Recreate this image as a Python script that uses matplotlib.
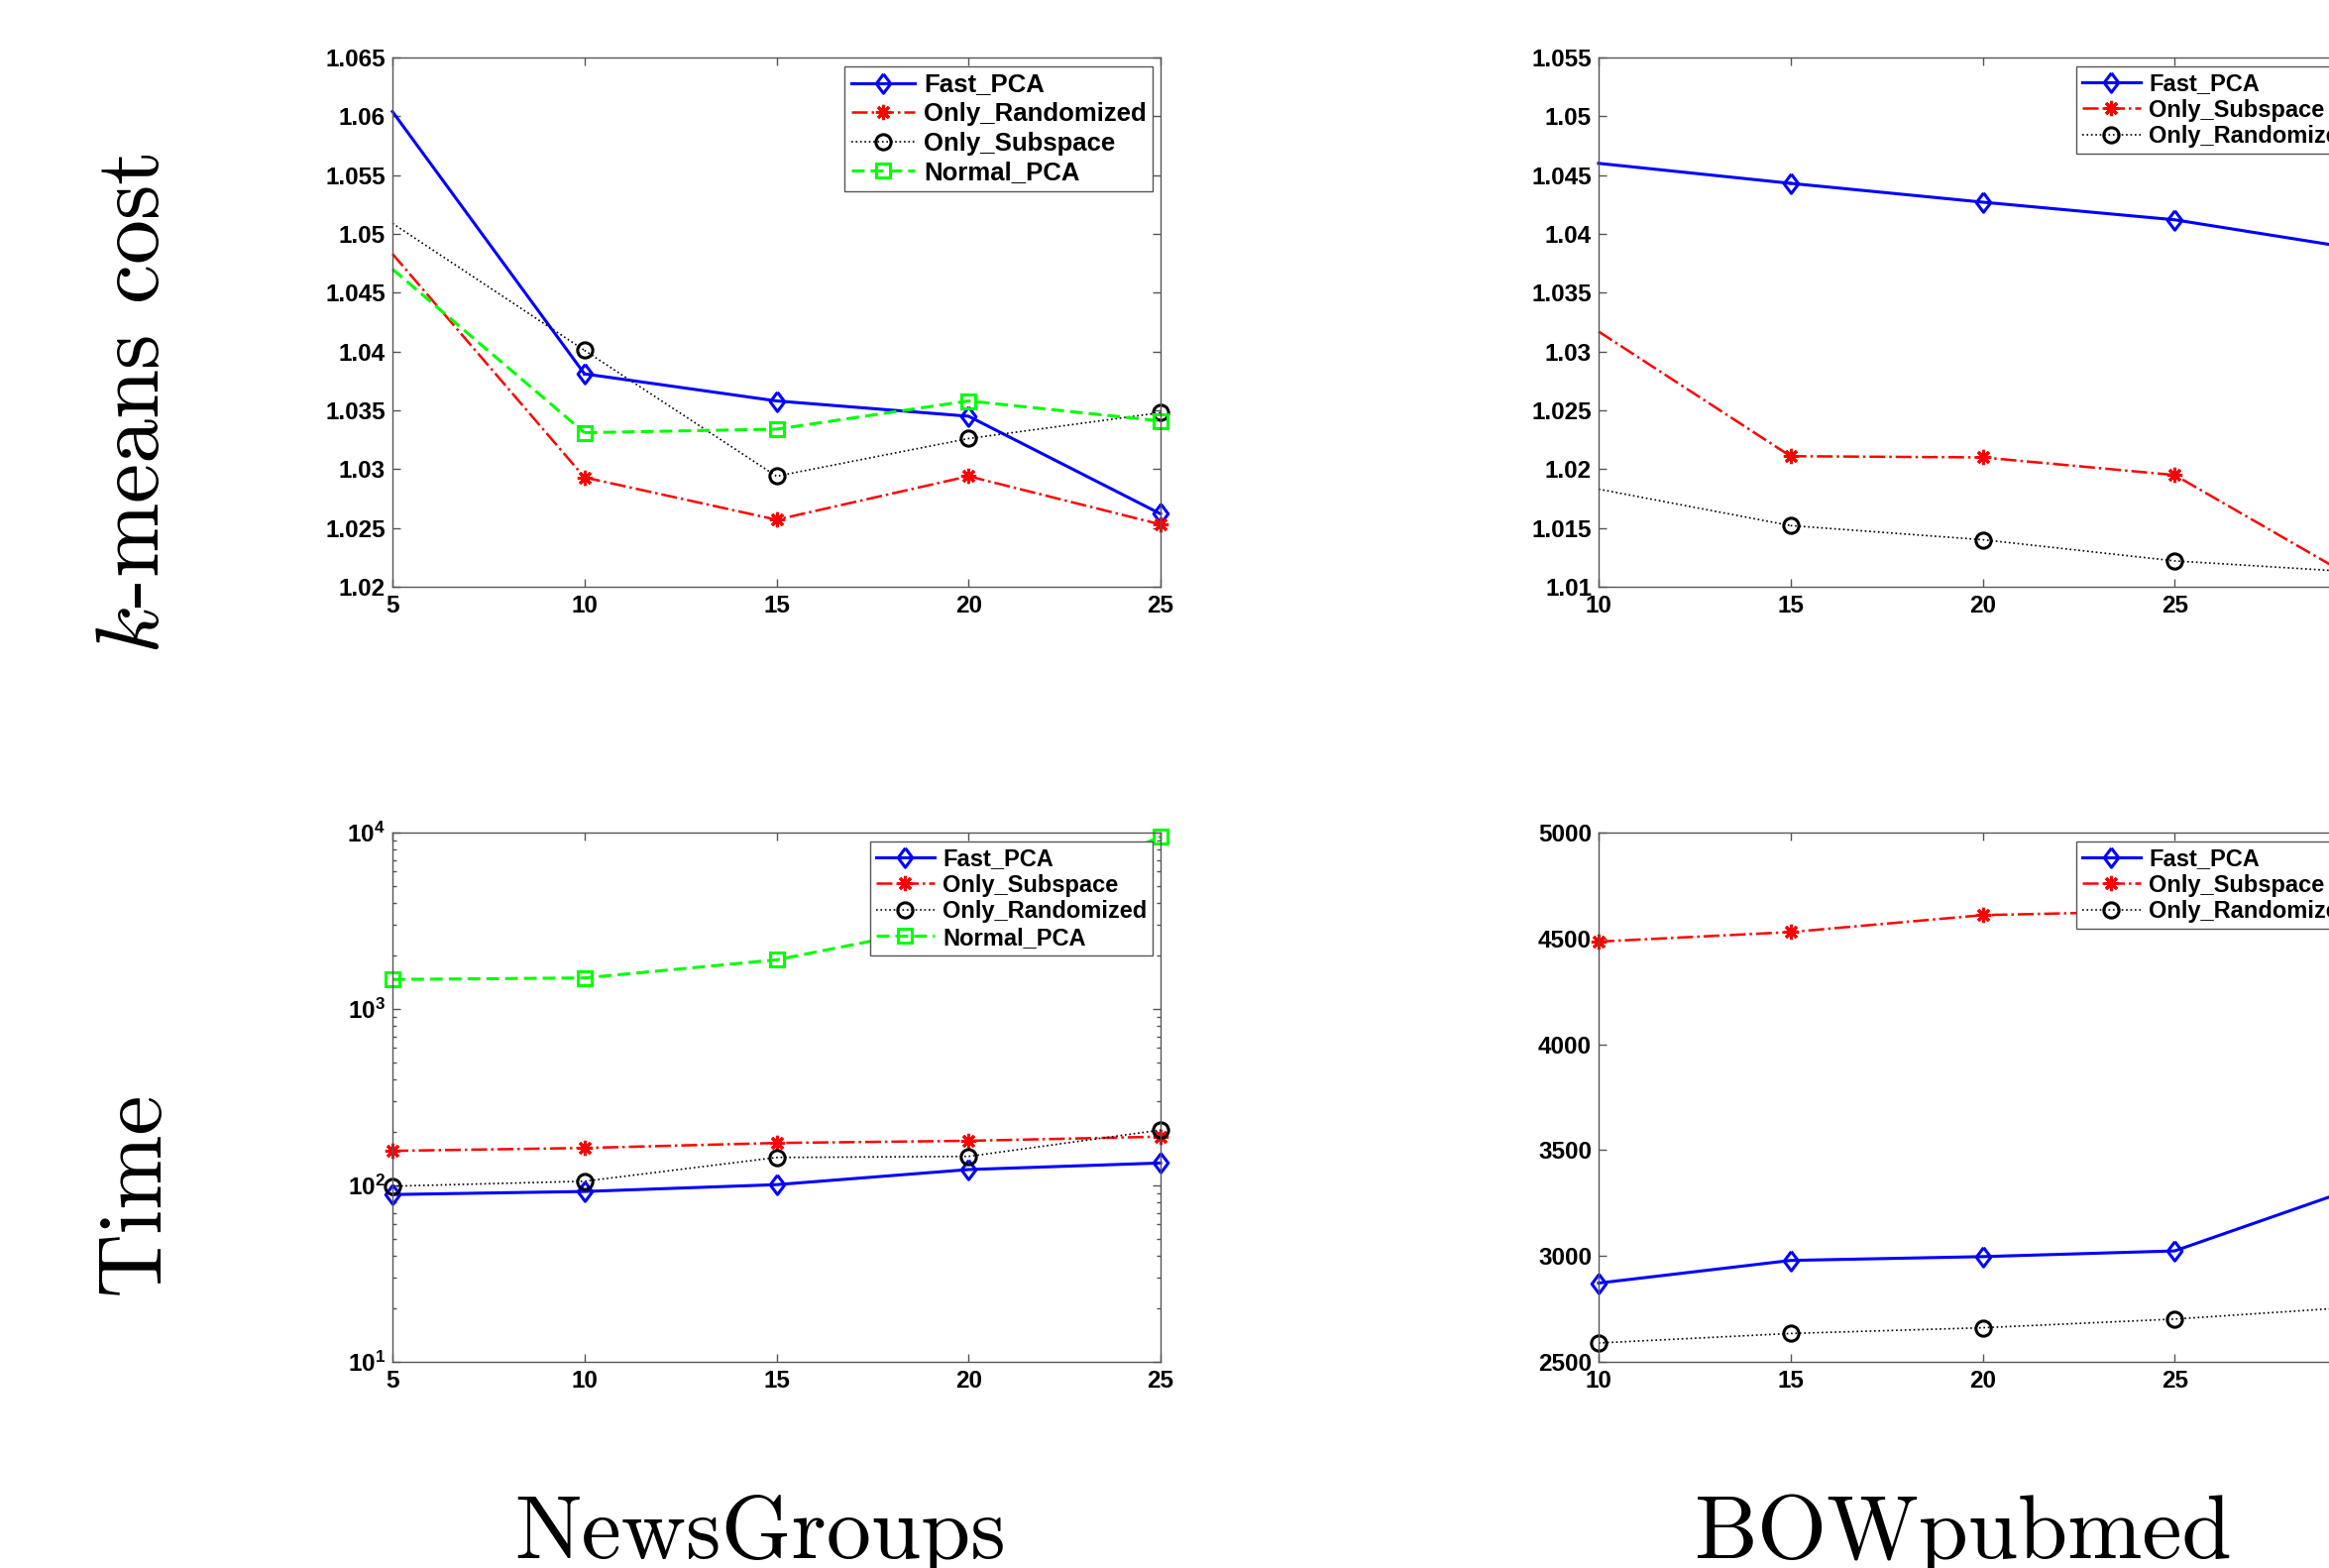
import numpy as np
import matplotlib
matplotlib.use('Agg')
import matplotlib.pyplot as plt

plt.rcParams['font.family'] = ['Liberation Sans', 'DejaVu Sans']
plt.rcParams['font.weight'] = 'bold'

# NewsGroups (x = number of components)
ng_x = [5, 10, 15, 20, 25]
ng_cost_fast = [1.0604, 1.0381, 1.0358, 1.0345, 1.0262]
ng_cost_rand = [1.0483, 1.0293, 1.0257, 1.0294, 1.0253]
ng_cost_sub = [1.0509, 1.0401, 1.0294, 1.0326, 1.0348]
ng_cost_normal = [1.0470, 1.0331, 1.0334, 1.0358, 1.0341]

ng_time_fast = [88.8, 92.4, 101, 123, 134]
ng_time_sub = [157, 163, 174, 179, 189]
ng_time_rand = [99, 105.6, 144, 146, 206]
ng_time_normal = [1470, 1500, 1900, 3120, 9500]

# BOWpubmed
bow_x = [10, 15, 20, 25, 30]
bow_cost_fast = [1.0460, 1.0443, 1.0427, 1.0412, 1.0386]
bow_cost_sub = [1.0317, 1.0211, 1.0210, 1.0195, 1.0101]
bow_cost_rand = [1.0183, 1.0152, 1.0140, 1.0122, 1.0112]

bow_time_fast = [2872, 2979, 2997, 3024, 3340]
bow_time_sub = [4485, 4530, 4610, 4630, 4680]
bow_time_rand = [2589, 2634, 2661, 2702, 2762]

ng_cost_ticks = [1.02, 1.025, 1.03, 1.035, 1.04, 1.045, 1.05, 1.055, 1.06, 1.065]
ng_cost_ticklabels = ['1.02', '1.025', '1.03', '1.035', '1.04', '1.045', '1.05', '1.055', '1.06', '1.065']
bow_cost_ticks = [1.01, 1.015, 1.02, 1.025, 1.03, 1.035, 1.04, 1.045, 1.05, 1.055]
bow_cost_ticklabels = ['1.01', '1.015', '1.02', '1.025', '1.03', '1.035', '1.04', '1.045', '1.05', '1.055']
bow_time_ticks = [2500, 3000, 3500, 4000, 4500, 5000]

diamond = [(0, 1), (0.75, 0), (0, -1), (-0.75, 0), (0, 1)]
blue = dict(color='#0000ff', ls='-', lw=2.2, marker=diamond, ms=14, mfc='none', mew=2.2)
red = dict(color='#ff0000', ls='-.', lw=1.8, marker=(8, 2, 0), ms=11, mew=2.2)
black = dict(color='#000000', ls=':', lw=1.2, marker='o', ms=11, mfc='none', mew=2.2)
green = dict(color='#00ff00', ls='--', lw=2.2, marker='s', ms=10, mfc='none', mew=2.2,
             dashes=(4.2, 2))

AXCOL = '#555555'


def draw(ax, x, y, st, label, skip_first=False):
    # first point sits on the axes edge without a marker in some panels
    if skip_first:
        seg = dict(st)
        seg['marker'] = 'none'
        ax.plot(x[:2], y[:2], clip_on=False, **seg)
        ax.plot(x[1:], y[1:], label=label, clip_on=False, **st)
    else:
        ax.plot(x, y, label=label, clip_on=False, **st)


def style(ax, xt):
    ax.set_xticks(xt)
    ax.set_xticklabels([str(v) for v in xt])
    ax.tick_params(which='both', direction='in', top=True, right=True,
                   color=AXCOL, labelsize=17.5, width=1)
    ax.tick_params(which='major', length=6)
    ax.tick_params(which='minor', length=3)
    ax.tick_params(axis='x', pad=6)
    ax.tick_params(axis='y', pad=5)
    for s in ax.spines.values():
        s.set_color(AXCOL)
        s.set_linewidth(1)


def legend(ax, size, spacing):
    leg = ax.legend(loc='upper right', bbox_to_anchor=(0.99, 0.983),
                    prop={'family': 'Liberation Sans', 'weight': 'bold', 'size': size},
                    handlelength=2.5, handletextpad=0.35, borderpad=0.25,
                    labelspacing=spacing, fancybox=False, framealpha=1,
                    edgecolor=AXCOL, borderaxespad=0)
    leg.get_frame().set_linewidth(1)


fig = plt.figure(figsize=(23.5, 15.82), dpi=100)
W, H = 2350, 1582
aw, ah = 775 / W, 534 / H
ax1 = fig.add_axes([396 / W, 1 - 592 / H, aw, ah])
ax2 = fig.add_axes([1613 / W, 1 - 592 / H, aw, ah])
ax3 = fig.add_axes([396 / W, 1 - 1374 / H, aw, ah])
ax4 = fig.add_axes([1613 / W, 1 - 1374 / H, aw, ah])

# NewsGroups cost
draw(ax1, ng_x, ng_cost_fast, blue, 'Fast_PCA', True)
draw(ax1, ng_x, ng_cost_rand, red, 'Only_Randomized', True)
draw(ax1, ng_x, ng_cost_sub, black, 'Only_Subspace', True)
draw(ax1, ng_x, ng_cost_normal, green, 'Normal_PCA', True)
ax1.set_xlim(5, 25)
ax1.set_ylim(1.02, 1.065)
ax1.set_yticks(ng_cost_ticks)
ax1.set_yticklabels(ng_cost_ticklabels)
style(ax1, ng_x)
legend(ax1, 18.5, 0.22)

# BOWpubmed cost
draw(ax2, bow_x, bow_cost_fast, blue, 'Fast_PCA', True)
draw(ax2, bow_x, bow_cost_sub, red, 'Only_Subspace', True)
draw(ax2, bow_x, bow_cost_rand, black, 'Only_Randomized', True)
ax2.set_xlim(10, 30)
ax2.set_ylim(1.01, 1.055)
ax2.set_yticks(bow_cost_ticks)
ax2.set_yticklabels(bow_cost_ticklabels)
style(ax2, bow_x)
legend(ax2, 17, 0.15)

# NewsGroups time
draw(ax3, ng_x, ng_time_fast, blue, 'Fast_PCA')
draw(ax3, ng_x, ng_time_sub, red, 'Only_Subspace')
draw(ax3, ng_x, ng_time_rand, black, 'Only_Randomized')
draw(ax3, ng_x, ng_time_normal, green, 'Normal_PCA')
ax3.set_yscale('log')
ax3.set_xlim(5, 25)
ax3.set_ylim(10, 10000)
style(ax3, ng_x)
legend(ax3, 17, 0.15)

# BOWpubmed time
draw(ax4, bow_x, bow_time_fast, blue, 'Fast_PCA')
draw(ax4, bow_x, bow_time_sub, red, 'Only_Subspace')
draw(ax4, bow_x, bow_time_rand, black, 'Only_Randomized')
ax4.set_xlim(10, 30)
ax4.set_ylim(2500, 5000)
ax4.set_yticks(bow_time_ticks)
style(ax4, bow_x)
legend(ax4, 17, 0.15)

big = dict(family='cmr10', weight='normal', size=65, math_fontfamily='cm')
fig.text(160 / W, 1 - 407 / H, r'$k$-means cost', rotation=90, rotation_mode='anchor',
         ha='center', va='baseline', **big)
fig.text(160 / W, 1 - 1203 / H, 'Time', rotation=90, rotation_mode='anchor',
         ha='center', va='baseline', **big)
fig.text(767 / W, 1 - 1572 / H, 'NewsGroups', ha='center', va='baseline', **big)
fig.text(1981 / W, 1 - 1572 / H, 'BOWpubmed', ha='center', va='baseline', **big)

fig.savefig('out.png', dpi=100)
